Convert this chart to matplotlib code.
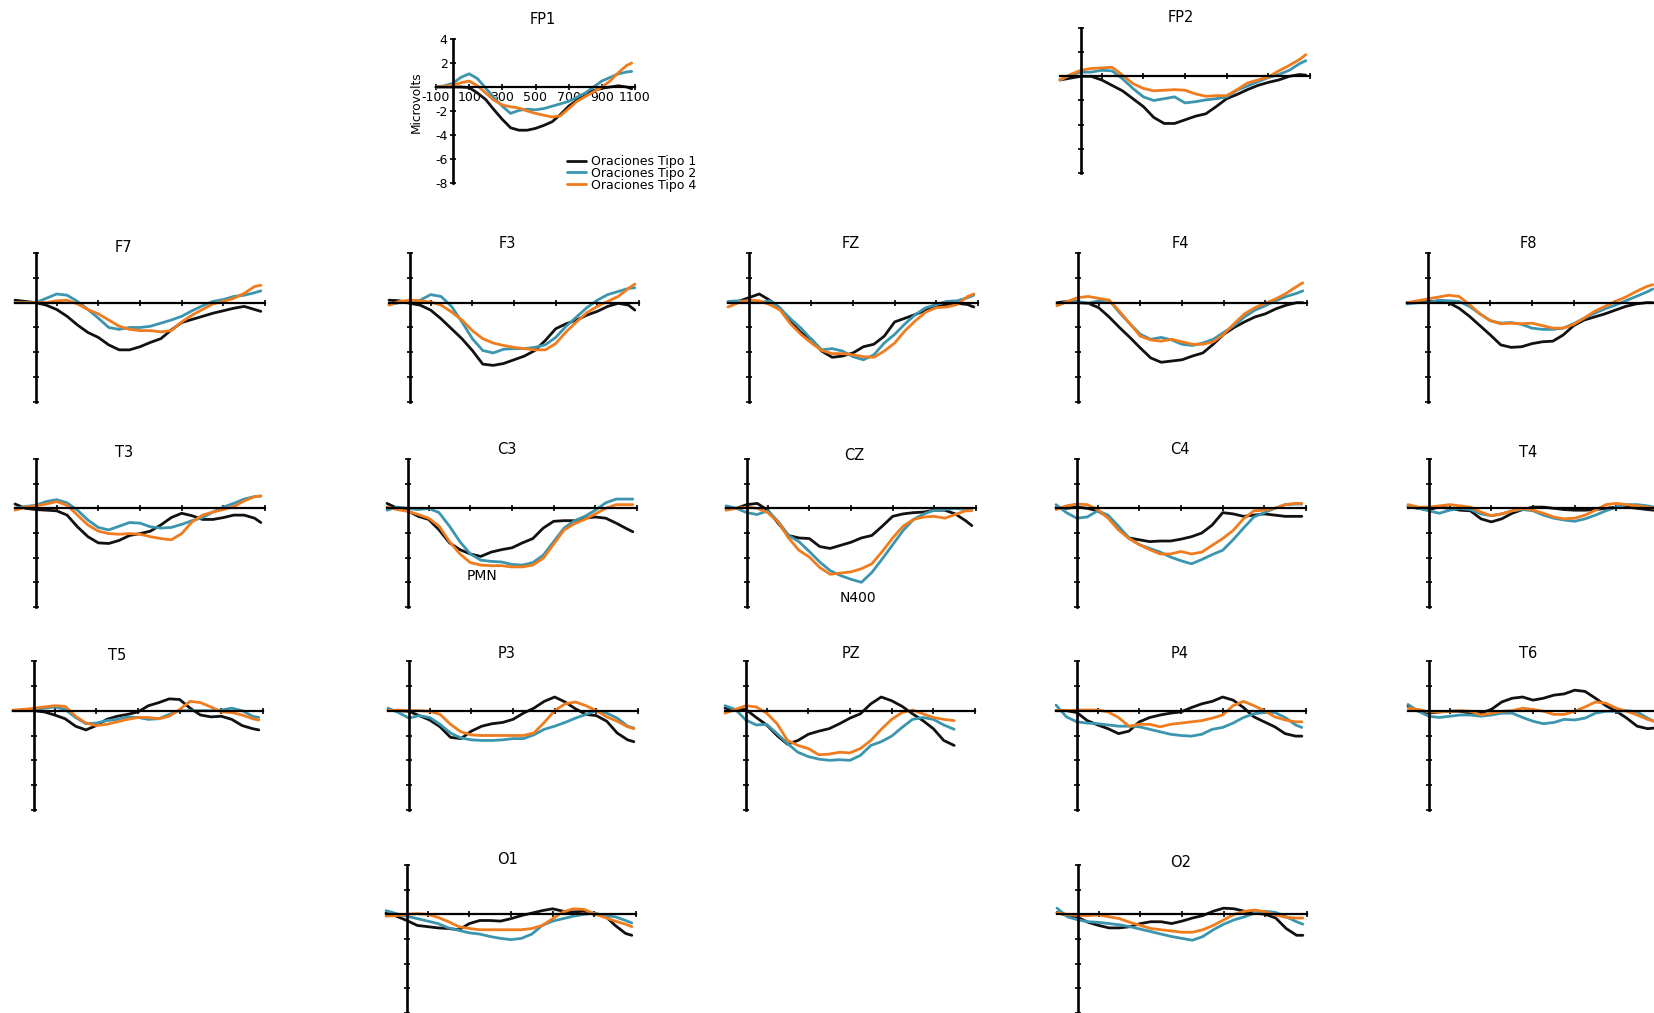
# ERP waveforms per electrode (three sentence types), drawn as small panels.

import matplotlib
matplotlib.use("Agg")

import matplotlib.pyplot as plt

W, H = 1654, 1013

# sample times in ms (last point is where the traces stop)
times = [-100, -50, 0, 50, 100, 150, 200, 250, 300, 350, 400, 450, 500,
         550, 600, 650, 700, 750, 800, 850, 900, 950, 1000, 1050, 1080]

labels = ["Oraciones Tipo 1", "Oraciones Tipo 2", "Oraciones Tipo 4"]
colors = ["#111111", "#3b95ae", "#f07c1e"]

# amplitudes in microvolts
fp1_tipo1 = [0, 0, 0, 0, -0.05, -0.5, -1.05, -1.9, -2.7, -3.4, -3.6, -3.6, -3.45, -3.2, -2.9, -2.3, -1.6, -1.1, -0.6, -0.3, -0.1, 0, 0.1, 0, -0.15]
fp1_tipo2 = [0, 0.1, 0.3, 0.8, 1.1, 0.7, -0.1, -0.9, -1.6, -2.2, -1.95, -1.85, -1.9, -1.8, -1.6, -1.4, -1.2, -0.85, -0.5, 0, 0.5, 0.8, 1.1, 1.25, 1.3]
fp1_tipo4 = [0, 0.05, 0.15, 0.35, 0.5, 0.1, -0.5, -1.1, -1.5, -1.65, -1.75, -2.0, -2.2, -2.35, -2.5, -2.4, -1.8, -1.2, -0.8, -0.4, 0, 0.5, 1.2, 1.8, 2.0]

fp2_tipo1 = [-0.3, -0.15, 0, 0, -0.3, -0.75, -1.2, -1.85, -2.5, -3.4, -3.9, -3.9, -3.6, -3.3, -3.1, -2.5, -1.85, -1.5, -1.1, -0.75, -0.5, -0.3, 0, 0.15, 0.1]
fp2_tipo2 = [-0.3, 0.1, 0.35, 0.35, 0.5, 0.45, -0.2, -1.0, -1.7, -2.0, -1.85, -1.7, -2.2, -2.1, -1.95, -1.85, -1.7, -1.15, -0.8, -0.45, -0.1, 0.15, 0.5, 1.05, 1.3]
fp2_tipo4 = [-0.3, 0.15, 0.5, 0.65, 0.7, 0.75, 0.1, -0.6, -1.0, -1.2, -1.15, -1.1, -1.15, -1.45, -1.65, -1.6, -1.6, -1.1, -0.55, -0.3, -0.05, 0.45, 0.9, 1.4, 1.8]

f7_tipo1 = [0.2, 0.1, 0, -0.2, -0.55, -1.1, -1.8, -2.4, -2.8, -3.4, -3.8, -3.8, -3.55, -3.2, -2.9, -2.2, -1.6, -1.35, -1.1, -0.85, -0.65, -0.45, -0.3, -0.55, -0.7]
f7_tipo2 = [0, 0, 0, 0.35, 0.7, 0.6, 0.1, -0.55, -1.25, -2.0, -2.15, -2.0, -2.0, -1.9, -1.65, -1.4, -1.1, -0.65, -0.25, 0.1, 0.25, 0.5, 0.6, 0.8, 0.95]
f7_tipo4 = [0, 0, 0, 0, 0.15, 0.2, -0.1, -0.55, -0.9, -1.4, -1.9, -2.15, -2.25, -2.25, -2.35, -2.25, -1.55, -1.0, -0.55, -0.1, 0.1, 0.35, 0.75, 1.3, 1.4]

f3_tipo1 = [0.2, 0.15, -0.05, -0.2, -0.6, -1.3, -2.1, -2.9, -3.85, -4.95, -5.05, -4.9, -4.6, -4.3, -3.85, -3.05, -2.1, -1.7, -1.4, -1.0, -0.7, -0.3, -0.05, -0.2, -0.6]
f3_tipo2 = [-0.15, 0, 0.1, 0.2, 0.65, 0.5, -0.3, -1.55, -2.9, -3.85, -4.05, -3.75, -3.7, -3.7, -3.6, -3.4, -2.8, -1.9, -1.15, -0.4, 0.2, 0.65, 0.9, 1.15, 1.2]
f3_tipo4 = [-0.2, 0.1, 0.2, 0.15, 0.05, -0.2, -0.75, -1.4, -2.25, -2.9, -3.25, -3.45, -3.6, -3.7, -3.8, -3.8, -3.3, -2.35, -1.55, -0.8, -0.3, 0.1, 0.5, 1.15, 1.5]

fz_tipo1 = [0, 0.1, 0.4, 0.7, 0.2, -0.45, -1.55, -2.4, -2.95, -3.9, -4.4, -4.3, -4.05, -3.55, -3.35, -2.7, -1.55, -1.25, -0.95, -0.6, -0.35, -0.15, -0.05, -0.15, -0.35]
fz_tipo2 = [0.1, 0.15, 0.1, 0, 0.15, -0.45, -1.3, -2.05, -2.95, -3.8, -3.7, -3.9, -4.35, -4.6, -4.2, -3.25, -2.55, -1.7, -0.95, -0.4, -0.15, 0.1, 0.15, 0.4, 0.6]
fz_tipo4 = [-0.35, 0, 0.2, 0.15, -0.15, -0.6, -1.7, -2.55, -3.25, -3.85, -4.1, -4.1, -4.2, -4.35, -4.4, -3.9, -3.25, -2.25, -1.45, -0.75, -0.4, -0.35, -0.15, 0.5, 0.7]

f4_tipo1 = [0, 0.1, 0, -0.05, -0.4, -1.15, -2.0, -2.8, -3.65, -4.45, -4.8, -4.7, -4.6, -4.3, -4.05, -3.35, -2.55, -2.0, -1.55, -1.15, -0.9, -0.5, -0.2, 0, 0]
f4_tipo2 = [-0.2, 0.1, 0.1, -0.05, 0.15, 0.2, -0.8, -1.7, -2.55, -2.95, -2.8, -3.0, -3.35, -3.45, -3.25, -2.95, -2.4, -1.85, -1.15, -0.6, -0.25, 0.15, 0.5, 0.75, 0.95]
f4_tipo4 = [-0.25, 0.1, 0.4, 0.5, 0.35, 0.2, -0.7, -1.7, -2.7, -3.0, -3.1, -2.95, -3.15, -3.35, -3.35, -3.15, -2.55, -1.7, -0.9, -0.4, -0.05, 0.3, 0.75, 1.3, 1.6]

f8_tipo1 = [0, 0, 0.1, 0.1, 0, -0.45, -1.1, -1.85, -2.6, -3.4, -3.6, -3.55, -3.3, -3.15, -3.1, -2.6, -1.85, -1.4, -1.15, -0.9, -0.6, -0.3, -0.1, 0, 0]
f8_tipo2 = [-0.1, 0, 0, 0.2, 0.15, 0.1, -0.3, -0.9, -1.45, -1.65, -1.6, -1.75, -2.05, -2.15, -2.15, -2.05, -1.7, -1.25, -0.85, -0.5, -0.2, 0.15, 0.5, 0.85, 1.1]
f8_tipo4 = [0, 0.15, 0.3, 0.45, 0.6, 0.5, -0.15, -0.9, -1.45, -1.7, -1.65, -1.7, -1.65, -1.85, -2.05, -2.05, -1.75, -1.25, -0.7, -0.3, 0.1, 0.45, 0.9, 1.3, 1.45]

t3_tipo1 = [0.35, 0, -0.1, -0.15, -0.2, -0.55, -1.5, -2.3, -2.8, -2.85, -2.6, -2.2, -2.05, -1.85, -1.35, -0.75, -0.4, -0.6, -0.9, -0.9, -0.75, -0.55, -0.55, -0.8, -1.15]
t3_tipo2 = [0, 0.15, 0.25, 0.55, 0.7, 0.45, -0.15, -0.95, -1.55, -1.75, -1.45, -1.15, -1.2, -1.5, -1.6, -1.55, -1.3, -1.0, -0.75, -0.3, 0.1, 0.4, 0.75, 0.95, 1.0]
t3_tipo4 = [-0.15, 0.1, 0.2, 0.35, 0.55, 0.25, -0.55, -1.35, -1.85, -2.05, -2.1, -2.05, -2.1, -2.3, -2.45, -2.55, -2.05, -1.1, -0.55, -0.3, -0.1, 0.15, 0.6, 0.95, 1.0]

c3_tipo1 = [0.4, 0, -0.2, -0.65, -0.9, -1.75, -2.8, -3.35, -3.7, -3.9, -3.55, -3.35, -3.2, -2.8, -2.45, -1.6, -1.05, -1.0, -1.0, -0.8, -0.7, -0.8, -1.2, -1.65, -1.9]
c3_tipo2 = [-0.15, 0.1, 0, -0.1, 0, -0.35, -1.45, -2.7, -3.7, -4.2, -4.3, -4.35, -4.55, -4.6, -4.4, -3.8, -2.7, -1.6, -1.0, -0.65, -0.15, 0.45, 0.75, 0.75, 0.75]
c3_tipo4 = [0.1, -0.1, -0.25, -0.5, -0.8, -1.45, -2.7, -3.7, -4.4, -4.6, -4.65, -4.65, -4.75, -4.75, -4.6, -4.05, -2.9, -1.75, -1.25, -0.9, -0.45, 0, 0.3, 0.3, 0.3]

cz_tipo1 = [0, 0, 0.3, 0.4, -0.15, -1.2, -2.2, -2.4, -2.45, -3.1, -3.25, -3.0, -2.75, -2.4, -2.2, -1.45, -0.65, -0.45, -0.35, -0.3, -0.15, -0.15, -0.45, -1.0, -1.4]
cz_tipo2 = [0.2, 0, -0.35, -0.5, -0.2, -1.05, -2.2, -2.7, -3.5, -4.35, -5.05, -5.45, -5.75, -6.0, -5.2, -4.1, -2.95, -1.8, -0.9, -0.45, -0.15, -0.1, 0, -0.1, -0.15]
cz_tipo4 = [-0.15, 0, 0.1, 0, -0.35, -1.1, -2.4, -3.4, -3.95, -4.8, -5.35, -5.25, -5.15, -4.9, -4.5, -3.5, -2.4, -1.45, -0.9, -0.7, -0.65, -0.8, -0.5, -0.2, -0.2]

c4_tipo1 = [0.05, 0, 0.1, 0, -0.2, -0.7, -1.6, -2.4, -2.55, -2.7, -2.65, -2.65, -2.5, -2.3, -2.0, -1.35, -0.35, -0.45, -0.65, -0.55, -0.45, -0.55, -0.65, -0.65, -0.65]
c4_tipo2 = [0.3, -0.35, -0.8, -0.7, -0.2, -0.55, -1.45, -2.4, -2.95, -3.25, -3.55, -3.95, -4.25, -4.5, -4.15, -3.75, -3.4, -2.55, -1.6, -0.7, -0.35, 0, 0.3, 0.35, 0.35]
c4_tipo4 = [-0.1, 0.2, 0.35, 0.3, -0.1, -0.8, -1.75, -2.45, -2.95, -3.35, -3.7, -3.7, -3.5, -3.7, -3.55, -3.0, -2.45, -1.8, -0.85, -0.2, -0.15, 0, 0.3, 0.4, 0.4]

t4_tipo1 = [0.15, 0, -0.1, 0.1, 0, -0.15, -0.2, -0.85, -1.1, -0.85, -0.4, -0.1, 0.1, 0.1, 0, -0.1, -0.15, -0.15, -0.1, 0, 0.1, 0.1, 0, -0.1, -0.15]
t4_tipo2 = [0.2, 0, -0.2, -0.4, -0.15, 0, -0.1, -0.45, -0.6, -0.45, -0.2, -0.1, -0.2, -0.55, -0.8, -0.95, -1.05, -0.85, -0.55, -0.2, 0.1, 0.3, 0.3, 0.2, 0.1]
t4_tipo4 = [0.3, 0.1, 0.1, 0.2, 0.3, 0.2, 0.1, -0.3, -0.6, -0.45, -0.2, 0, -0.15, -0.4, -0.7, -0.85, -0.8, -0.55, -0.15, 0.3, 0.4, 0.3, 0.2, 0.1, 0]

t5_tipo1 = [0, 0, 0, -0.1, -0.35, -0.65, -1.25, -1.55, -1.2, -0.7, -0.45, -0.3, -0.1, 0.4, 0.65, 0.95, 0.9, 0.2, -0.35, -0.5, -0.45, -0.7, -1.2, -1.45, -1.55]
t5_tipo2 = [0, 0.05, 0.05, 0.2, 0.3, 0.1, -0.55, -1.05, -1.0, -0.8, -0.7, -0.5, -0.55, -0.7, -0.65, -0.3, 0, 0, 0, 0, 0.05, 0.2, 0, -0.45, -0.55]
t5_tipo4 = [0.05, 0.1, 0.2, 0.3, 0.4, 0.35, -0.45, -1.0, -1.2, -1.1, -0.9, -0.7, -0.55, -0.55, -0.65, -0.45, 0.1, 0.75, 0.65, 0.3, -0.1, -0.15, -0.35, -0.65, -0.75]

p3_tipo1 = [0.05, 0, -0.05, -0.4, -0.75, -1.3, -2.15, -2.25, -1.65, -1.25, -1.05, -0.95, -0.7, -0.2, 0.2, 0.75, 1.1, 0.7, 0.15, -0.3, -0.4, -0.85, -1.8, -2.35, -2.5]
p3_tipo2 = [0.2, -0.15, -0.6, -0.4, -0.55, -1.1, -1.8, -2.2, -2.35, -2.4, -2.4, -2.35, -2.25, -2.25, -1.95, -1.5, -1.25, -0.95, -0.6, -0.3, 0, -0.2, -0.6, -1.25, -1.4]
p3_tipo4 = [0, 0.05, 0, 0, -0.05, -0.3, -1.1, -1.7, -1.95, -2.0, -2.0, -2.0, -2.0, -2.0, -1.8, -0.95, 0, 0.55, 0.7, 0.4, 0, -0.5, -0.85, -1.3, -1.45]

# PZ traces stop earlier than the others
pz_tipo1 = [0.2, 0.05, 0.1, -0.55, -1.15, -2.0, -2.7, -2.4, -1.9, -1.65, -1.45, -1.05, -0.6, -0.25, 0.55, 1.1, 0.8, 0.35, -0.25, -0.8, -1.45, -2.4, -2.8]
pz_tipo2 = [0.4, 0.1, -0.75, -1.15, -1.1, -1.85, -2.65, -3.35, -3.7, -3.9, -4.0, -3.95, -4.0, -3.6, -2.8, -2.5, -2.05, -1.35, -0.7, -0.55, -0.7, -1.15, -1.5]
pz_tipo4 = [-0.2, 0.1, 0.4, 0.3, -0.2, -1.05, -2.4, -2.8, -3.05, -3.55, -3.5, -3.35, -3.4, -3.05, -2.4, -1.5, -0.7, -0.15, 0.05, -0.25, -0.55, -0.7, -0.8]

p4_tipo1 = [0, 0, -0.15, -0.8, -1.15, -1.45, -1.85, -1.65, -0.9, -0.55, -0.35, -0.2, -0.1, 0.25, 0.55, 0.75, 1.1, 0.85, 0.25, -0.5, -0.9, -1.3, -1.85, -2.05, -2.05]
p4_tipo2 = [0.45, -0.5, -0.9, -1.0, -1.05, -1.15, -1.25, -1.25, -1.3, -1.5, -1.7, -1.9, -2.0, -2.05, -1.9, -1.5, -1.35, -1.0, -0.55, -0.25, -0.15, -0.15, -0.55, -1.15, -1.35]
p4_tipo4 = [0, 0, 0.05, 0.05, 0.05, -0.1, -0.55, -1.25, -1.1, -1.1, -1.3, -1.1, -1.0, -0.9, -0.8, -0.6, -0.35, 0.4, 0.75, 0.4, 0, -0.5, -0.75, -0.9, -0.9]

t6_tipo1 = [0.4, -0.05, -0.2, -0.1, -0.05, -0.05, -0.2, -0.2, 0.1, 0.7, 1.0, 1.1, 0.85, 1.0, 1.25, 1.35, 1.65, 1.55, 1.0, 0.4, -0.05, -0.6, -1.25, -1.45, -1.4]
t6_tipo2 = [0.5, -0.05, -0.45, -0.55, -0.45, -0.35, -0.35, -0.45, -0.35, -0.2, -0.2, -0.55, -0.85, -1.05, -0.95, -0.7, -0.75, -0.6, -0.2, -0.05, -0.05, 0, -0.1, -0.6, -0.85]
t6_tipo4 = [0.2, 0.1, -0.1, -0.1, -0.05, 0, -0.05, -0.35, -0.2, -0.05, 0, 0.2, 0.1, -0.05, -0.3, -0.3, -0.05, 0.3, 0.7, 0.6, 0.2, -0.05, -0.35, -0.7, -0.85]

o1_tipo1 = [0.1, -0.15, -0.5, -0.9, -1.0, -1.1, -1.15, -1.25, -0.75, -0.5, -0.5, -0.55, -0.35, -0.1, 0.1, 0.3, 0.45, 0.25, 0.2, 0.25, 0, -0.1, -0.9, -1.55, -1.7]
o1_tipo2 = [0.3, 0.05, -0.15, -0.35, -0.55, -0.75, -1.1, -1.3, -1.5, -1.6, -1.8, -1.95, -2.05, -1.95, -1.6, -0.9, -0.55, -0.35, -0.15, 0, 0.1, -0.1, -0.2, -0.5, -0.7]
o1_tipo4 = [-0.15, -0.1, 0, 0.05, 0, -0.25, -0.6, -1.0, -1.15, -1.25, -1.25, -1.25, -1.25, -1.25, -1.15, -0.9, -0.35, 0.2, 0.45, 0.4, 0.05, -0.25, -0.55, -0.8, -1.0]

o2_tipo1 = [0.15, -0.1, -0.25, -0.65, -0.9, -1.1, -1.1, -1.0, -0.75, -0.6, -0.6, -0.75, -0.55, -0.3, -0.1, 0.25, 0.5, 0.45, 0.25, 0.1, 0, -0.3, -1.15, -1.7, -1.7]
o2_tipo2 = [0.5, -0.2, -0.45, -0.6, -0.65, -0.75, -0.85, -1.0, -1.2, -1.4, -1.6, -1.8, -1.95, -2.1, -1.8, -1.25, -0.8, -0.45, -0.2, 0.1, 0.25, 0.15, -0.2, -0.6, -0.8]
o2_tipo4 = [0.1, 0, -0.1, -0.1, -0.05, -0.2, -0.35, -0.65, -0.9, -1.15, -1.25, -1.35, -1.45, -1.45, -1.25, -0.9, -0.45, 0, 0.25, 0.35, 0.2, -0.05, -0.25, -0.3, -0.3]

channels = {
    "FP1": (fp1_tipo1, fp1_tipo2, fp1_tipo4),
    "FP2": (fp2_tipo1, fp2_tipo2, fp2_tipo4),
    "F7": (f7_tipo1, f7_tipo2, f7_tipo4),
    "F3": (f3_tipo1, f3_tipo2, f3_tipo4),
    "FZ": (fz_tipo1, fz_tipo2, fz_tipo4),
    "F4": (f4_tipo1, f4_tipo2, f4_tipo4),
    "F8": (f8_tipo1, f8_tipo2, f8_tipo4),
    "T3": (t3_tipo1, t3_tipo2, t3_tipo4),
    "C3": (c3_tipo1, c3_tipo2, c3_tipo4),
    "CZ": (cz_tipo1, cz_tipo2, cz_tipo4),
    "C4": (c4_tipo1, c4_tipo2, c4_tipo4),
    "T4": (t4_tipo1, t4_tipo2, t4_tipo4),
    "T5": (t5_tipo1, t5_tipo2, t5_tipo4),
    "P3": (p3_tipo1, p3_tipo2, p3_tipo4),
    "PZ": (pz_tipo1, pz_tipo2, pz_tipo4),
    "P4": (p4_tipo1, p4_tipo2, p4_tipo4),
    "T6": (t6_tipo1, t6_tipo2, t6_tipo4),
    "O1": (o1_tipo1, o1_tipo2, o1_tipo4),
    "O2": (o2_tipo1, o2_tipo2, o2_tipo4),
}

# panel boxes in pixels: left (-100 ms), top (+4 uV), width, height; then title x, y
layout = {
    "FP1": (436, 39, 199, 144, 543, 20),
    "FP2": (1060, 28, 250, 145, 1181, 18),
    "F7": (15, 253, 250, 149, 123, 247),
    "F3": (389, 253, 250, 149, 507, 244),
    "FZ": (728, 253, 250, 149, 851, 244),
    "F4": (1057, 253, 250, 149, 1180, 244),
    "F8": (1407, 253, 250, 149, 1528, 244),
    "T3": (15, 459, 250, 148, 124, 452),
    "C3": (387, 459, 250, 148, 507, 449),
    "CZ": (726, 459, 250, 148, 854, 455),
    "C4": (1056, 459, 250, 148, 1180, 449),
    "T4": (1408, 459, 250, 148, 1528, 452),
    "T5": (13, 661, 250, 149, 117, 655),
    "P3": (388, 661, 250, 149, 507, 653),
    "PZ": (725, 661, 250, 149, 851, 654),
    "P4": (1056, 661, 250, 149, 1180, 653),
    "T6": (1408, 661, 250, 149, 1528, 654),
    "O1": (386, 865, 250, 148, 508, 860),
    "O2": (1057, 865, 250, 148, 1181, 862),
}

fig = plt.figure(figsize=(W / 100, H / 100), dpi=100)
fig.patch.set_facecolor("white")

for name, series in channels.items():
    left, top, w, h, tx, ty = layout[name]
    ax = fig.add_axes([left / W, 1 - (top + h) / H, w / W, h / H])
    ax.patch.set_visible(False)
    ax.set_xlim(-100, 1100)
    ax.set_ylim(-8, 4)

    # axes cross at (0 ms, 0 uV)
    ax.spines["left"].set_position(("data", 0))
    ax.spines["bottom"].set_position(("data", 0))
    ax.spines["top"].set_visible(False)
    ax.spines["right"].set_visible(False)
    ax.spines["left"].set_linewidth(1.9)
    ax.spines["bottom"].set_linewidth(1.6)

    ax.set_yticks([-8, -6, -4, -2, 0, 2, 4])
    ax.tick_params(axis="y", direction="inout", length=5, width=1.2, pad=1)
    ax.tick_params(axis="x", direction="inout", length=4, width=1.2, pad=1)

    if name == "FP1":
        ax.set_xticks([-100, 100, 300, 500, 700, 900, 1100])
        ax.set_xticklabels(["-100", "100", "300", "500", "700", "900", "1100"], fontsize=9)
        ax.set_yticklabels(["-8", "-6", "-4", "-2", "", "2", "4"], fontsize=9)
    else:
        ax.set_xticks([100, 300, 500, 700, 900, 1100])
        ax.set_xticklabels([])
        ax.set_yticklabels([])

    lines = []
    for vals, col, lab in zip(series, colors, labels):
        ln, = ax.plot(times[:len(vals)], vals, color=col, lw=2.0, label=lab,
                      solid_capstyle="round", solid_joinstyle="round", clip_on=False)
        lines.append(ln)

    fig.text(tx / W, 1 - ty / H, name, ha="center", va="center", fontsize=10.5)

    if name == "FP1":
        fig.text(416 / W, 1 - 102 / H, "Microvolts", rotation=90,
                 ha="center", va="center", fontsize=8.7)
        ax.legend(handles=lines, loc="upper left", bbox_to_anchor=(567 / W, 1 - 155 / H),
                  bbox_transform=fig.transFigure, frameon=False, fontsize=9,
                  handlelength=1.5, handletextpad=0.4, labelspacing=-0.1,
                  borderpad=0, borderaxespad=0)

fig.text(482 / W, 1 - 576 / H, "PMN", ha="center", va="center", fontsize=10)
fig.text(858 / W, 1 - 598 / H, "N400", ha="center", va="center", fontsize=10)

fig.savefig("out.png", dpi=100, facecolor="white")
print("Saved figure: out.png")
